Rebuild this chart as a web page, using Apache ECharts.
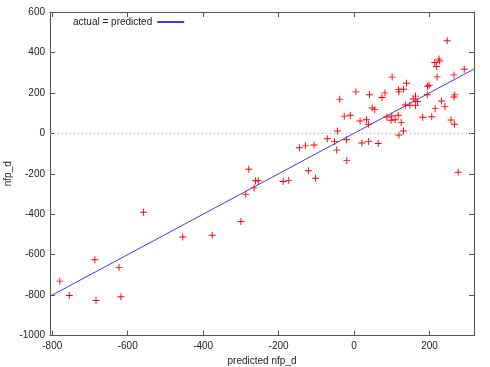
<!DOCTYPE html>
<html>
<head>
<meta charset="utf-8">
<script src="https://cdn.jsdelivr.net/npm/echarts@6/dist/echarts.min.js"></script>
<style>html,body{margin:0;padding:0;background:#fff;}#c{width:490px;height:367px;}</style>
</head>
<body>
<div id="c"></div>
<script>
// Data
const predicted = [-780,-755,-687,-684,-623,-618,-558,-454,-376,-300,-287,-279,-265,-261,-254,-188,-173,-145,-129,-106,-121,-102,-71,-52,-46,-44,-38,-26,-20,-19,-10,5,16,21,33,38,38,41,48,55,64,74,82,87,98,100,101,109,117,118,119,119,125,131,131,136,139,148,157,163,163,168,182,194,195,199,206,214,215,219,220,225,227,232,241,247,257,265,265,266,267,276,292];
const actual    = [-731,-802,-625,-827,-663,-808,-390,-513,-504,-436,-302,-178,-270,-235,-235,-238,-234,-71,-62,-58,-185,-222,-27,-40,-83,11,169,85,-32,-134,89,205,61,-48,67,45,-40,191,125,117,-50,177,200,81,65,86,278,67,89,216,205,-8,53,218,11,140,248,139,170,184,137,157,79,191,233,238,82,350,122,330,279,367,358,160,132,458,66,289,180,45,190,-193,317];
const xRange = [-806, 318];
const yRange = [-1000, 600];
const xTickValues = [-800,-600,-400,-200,0,200];
const lineName = 'actual = predicted';
const xTitle = 'predicted nfp_d';
const yTitle = 'nfp_d';

const points = predicted.map((x,i)=>[x, actual[i]]);
const linePts = [[xRange[0], xRange[0]], [xRange[1], xRange[1]]];

const font = 'Liberation Sans, Arial, sans-serif';
const axisCol = '#555';
const labelStyle = {color:'#222', fontSize:10, fontFamily:font, formatter:v=>String(v)};

const chart = echarts.init(document.getElementById('c'), null, {renderer:'canvas'});
const baseX = {
  type:'value', min:xRange[0], max:xRange[1],
  axisLine:{show:true, onZero:false, lineStyle:{color:axisCol, width:1}},
  axisTick:{show:true, inside:true, length:5, customValues:xTickValues, lineStyle:{color:axisCol}},
  splitLine:{show:false}
};
const baseY = {
  type:'value', min:yRange[0], max:yRange[1], interval:200,
  axisLine:{show:true, onZero:false, lineStyle:{color:axisCol, width:1}},
  axisTick:{show:true, inside:true, length:5, lineStyle:{color:axisCol}},
  splitLine:{show:false}
};
chart.setOption({
  animation:false,
  backgroundColor:'#fff',
  grid:{left:50, right:16, top:12, bottom:31.5, outerBoundsMode:'none', containLabel:false},
  legend:{
    data:[lineName], left:68, top:12, align:'right',
    itemWidth:27, itemHeight:2, itemGap:5,
    icon:'rect',
    textStyle:{color:'#222', fontSize:10, fontFamily:font}
  },
  xAxis:[
    Object.assign({}, baseX, {
      position:'bottom',
      axisLabel:Object.assign({show:true, margin:6, customValues:xTickValues}, labelStyle),
      name:xTitle, nameLocation:'middle', nameGap:21, nameMoveOverlap:false,
      nameTextStyle:{color:'#222', fontSize:10, fontFamily:font}
    }),
    Object.assign({}, baseX, {position:'top', axisLabel:{show:false}})
  ],
  yAxis:[
    Object.assign({}, baseY, {
      position:'left',
      axisLabel:Object.assign({show:true, margin:5}, labelStyle),
      name:yTitle, nameLocation:'middle', nameGap:37, nameMoveOverlap:false,
      nameTextStyle:{color:'#222', fontSize:10, fontFamily:font}
    }),
    Object.assign({}, baseY, {position:'right', axisLabel:{show:false}})
  ],
  series:[
    {
      name:lineName, type:'line', data:linePts, xAxisIndex:0, yAxisIndex:0,
      showSymbol:false, symbol:'none',
      lineStyle:{color:'#3a3aff', width:1}, itemStyle:{color:'#3a3aff'},
      z:2
    },
    {
      name:'points', type:'scatter', data:points, xAxisIndex:0, yAxisIndex:0,
      symbol:'path://M0,2.6h6v0.8h-6z M2.6,0h0.8v6h-0.8z', symbolSize:7,
      itemStyle:{color:'#ff0000', opacity:1},
      z:3,
      markLine:{
        silent:true, symbol:['none','none'],
        label:{show:false},
        lineStyle:{color:'#aaa', type:[1,3], width:1},
        data:[{yAxis:0}]
      }
    }
  ]
});
</script>
</body>
</html>
